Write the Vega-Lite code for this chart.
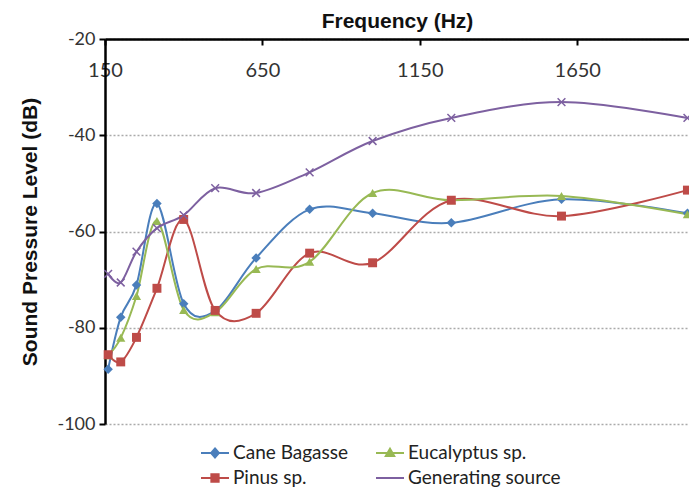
{
  "$schema": "https://vega.github.io/schema/vega-lite/v6.json",
  "width": 584,
  "height": 385,
  "autosize": {"type": "none"},
  "padding": {"left": 105, "top": 39, "right": 0, "bottom": 66},
  "background": "white",
  "config": {"view": {"stroke": null}},
  "data": {
    "values": [
      {"freq": 160, "series": "Cane Bagasse", "spl": -88.6},
      {"freq": 200, "series": "Cane Bagasse", "spl": -77.8},
      {"freq": 250, "series": "Cane Bagasse", "spl": -71.1},
      {"freq": 315, "series": "Cane Bagasse", "spl": -54.2},
      {"freq": 400, "series": "Cane Bagasse", "spl": -75.0},
      {"freq": 500, "series": "Cane Bagasse", "spl": -76.5},
      {"freq": 630, "series": "Cane Bagasse", "spl": -65.5},
      {"freq": 800, "series": "Cane Bagasse", "spl": -55.4},
      {"freq": 1000, "series": "Cane Bagasse", "spl": -56.2},
      {"freq": 1250, "series": "Cane Bagasse", "spl": -58.2},
      {"freq": 1600, "series": "Cane Bagasse", "spl": -53.3},
      {"freq": 2000, "series": "Cane Bagasse", "spl": -56.2},
      {"freq": 160, "series": "Pinus sp.", "spl": -85.6},
      {"freq": 200, "series": "Pinus sp.", "spl": -87.1},
      {"freq": 250, "series": "Pinus sp.", "spl": -82.0},
      {"freq": 315, "series": "Pinus sp.", "spl": -71.8},
      {"freq": 400, "series": "Pinus sp.", "spl": -57.5},
      {"freq": 500, "series": "Pinus sp.", "spl": -76.4},
      {"freq": 630, "series": "Pinus sp.", "spl": -77.0},
      {"freq": 800, "series": "Pinus sp.", "spl": -64.5},
      {"freq": 1000, "series": "Pinus sp.", "spl": -66.5},
      {"freq": 1250, "series": "Pinus sp.", "spl": -53.5},
      {"freq": 1600, "series": "Pinus sp.", "spl": -56.8},
      {"freq": 2000, "series": "Pinus sp.", "spl": -51.4},
      {"freq": 160, "series": "Eucalyptus sp.", "spl": -85.7},
      {"freq": 200, "series": "Eucalyptus sp.", "spl": -82.1},
      {"freq": 250, "series": "Eucalyptus sp.", "spl": -73.4},
      {"freq": 315, "series": "Eucalyptus sp.", "spl": -57.8},
      {"freq": 400, "series": "Eucalyptus sp.", "spl": -76.3},
      {"freq": 500, "series": "Eucalyptus sp.", "spl": -76.8},
      {"freq": 630, "series": "Eucalyptus sp.", "spl": -67.8},
      {"freq": 800, "series": "Eucalyptus sp.", "spl": -66.3},
      {"freq": 1000, "series": "Eucalyptus sp.", "spl": -52.0},
      {"freq": 1250, "series": "Eucalyptus sp.", "spl": -53.5},
      {"freq": 1600, "series": "Eucalyptus sp.", "spl": -52.6},
      {"freq": 2000, "series": "Eucalyptus sp.", "spl": -56.4},
      {"freq": 160, "series": "Generating source", "spl": -68.8},
      {"freq": 200, "series": "Generating source", "spl": -70.6},
      {"freq": 250, "series": "Generating source", "spl": -64.2},
      {"freq": 315, "series": "Generating source", "spl": -59.3},
      {"freq": 400, "series": "Generating source", "spl": -56.6},
      {"freq": 500, "series": "Generating source", "spl": -51.0},
      {"freq": 630, "series": "Generating source", "spl": -52.0},
      {"freq": 800, "series": "Generating source", "spl": -47.7},
      {"freq": 1000, "series": "Generating source", "spl": -41.2},
      {"freq": 1250, "series": "Generating source", "spl": -36.4},
      {"freq": 1600, "series": "Generating source", "spl": -33.1},
      {"freq": 2000, "series": "Generating source", "spl": -36.4}
    ]
  },
  "encoding": {
    "x": {
      "field": "freq",
      "type": "quantitative",
      "scale": {"domain": [150, 2005], "nice": false, "zero": false},
      "axis": {
        "orient": "top",
        "values": [150, 650, 1150, 1650],
        "labelExpr": "datum.value + ''",
        "title": "Frequency (Hz)",
        "titleFont": "Liberation Sans",
        "titleFontSize": 21,
        "titleFontWeight": "bold",
        "titleColor": "#111",
        "titleY": -12,
        "titleBaseline": "alphabetic",
        "labelFont": "Lato",
        "labelFontSize": 20,
        "labelColor": "#333",
        "labelFlush": false,
        "labelPadding": -35,
        "tickSize": -6,
        "tickWidth": 2,
        "tickColor": "#000",
        "domainColor": "#000",
        "domainWidth": 2.5,
        "grid": false
      }
    },
    "y": {
      "field": "spl",
      "type": "quantitative",
      "scale": {"domain": [-100, -20], "nice": false, "zero": false},
      "axis": {
        "values": [-100, -80, -60, -40, -20],
        "labelExpr": "datum.value + ''",
        "title": "Sound Pressure Level (dB)",
        "titleFont": "Liberation Sans",
        "titleFontSize": 21,
        "titleFontWeight": "bold",
        "titleColor": "#111",
        "titleX": -65,
        "labelFont": "Lato",
        "labelFontSize": 18,
        "labelColor": "#333",
        "labelPadding": 4,
        "tickSize": 6,
        "tickWidth": 2,
        "tickColor": "#000",
        "domainColor": "#000",
        "domainWidth": 2.5,
        "grid": true,
        "gridColor": "#aaaaaa",
        "gridDash": [2, 2],
        "gridWidth": 1.5
      }
    },
    "color": {
      "field": "series",
      "type": "nominal",
      "scale": {
        "domain": ["Cane Bagasse", "Eucalyptus sp.", "Pinus sp.", "Generating source"],
        "range": ["#4a7ebb", "#98b954", "#be4b48", "#7d60a0"]
      },
      "legend": {
        "orient": "none",
        "legendX": 95,
        "legendY": 399,
        "direction": "horizontal",
        "columns": 2,
        "columnPadding": 23,
        "rowPadding": -1,
        "title": null,
        "labelFont": "Lato",
        "labelFontSize": 19,
        "labelColor": "#222",
        "labelOffset": 3,
        "symbolSize": 784,
        "encode": {
          "symbols": {
            "update": {
              "shape": {"signal": "datum.value === 'Cane Bagasse' ? 'M-1,0L1,0M0,-0.32L0.28,0L0,0.32L-0.28,0Z' : datum.value === 'Pinus sp.' ? 'M-1,0L1,0M-0.26,-0.26L0.26,-0.26L0.26,0.26L-0.26,0.26Z' : datum.value === 'Eucalyptus sp.' ? 'M-1,0L1,0M0,-0.3L0.3,0.22L-0.3,0.22Z' : 'M-1,0L1,0'"},
              "size": {"value": 784},
              "fill": {"scale": "color", "field": "value"},
              "stroke": {"scale": "color", "field": "value"},
              "strokeWidth": {"value": 2},
              "opacity": {"value": 1}
            }
          }
        }
      }
    }
  },
  "layer": [
    {"mark": {"type": "line", "interpolate": "cardinal", "strokeWidth": 2}},
    {
      "transform": [{"filter": "datum.series === 'Cane Bagasse'"}],
      "mark": {"type": "point", "shape": "diamond", "filled": true, "opacity": 1, "size": 90}
    },
    {
      "transform": [{"filter": "datum.series === 'Eucalyptus sp.'"}],
      "mark": {"type": "point", "shape": "triangle-up", "filled": true, "opacity": 1, "size": 85}
    },
    {
      "transform": [{"filter": "datum.series === 'Pinus sp.'"}],
      "mark": {"type": "point", "shape": "square", "filled": true, "opacity": 1, "size": 80}
    },
    {
      "transform": [{"filter": "datum.series === 'Generating source'"}],
      "mark": {"type": "point", "shape": "M-1,-1L1,1M1,-1L-1,1", "filled": false, "opacity": 1, "size": 60, "strokeWidth": 1.5}
    }
  ]
}
